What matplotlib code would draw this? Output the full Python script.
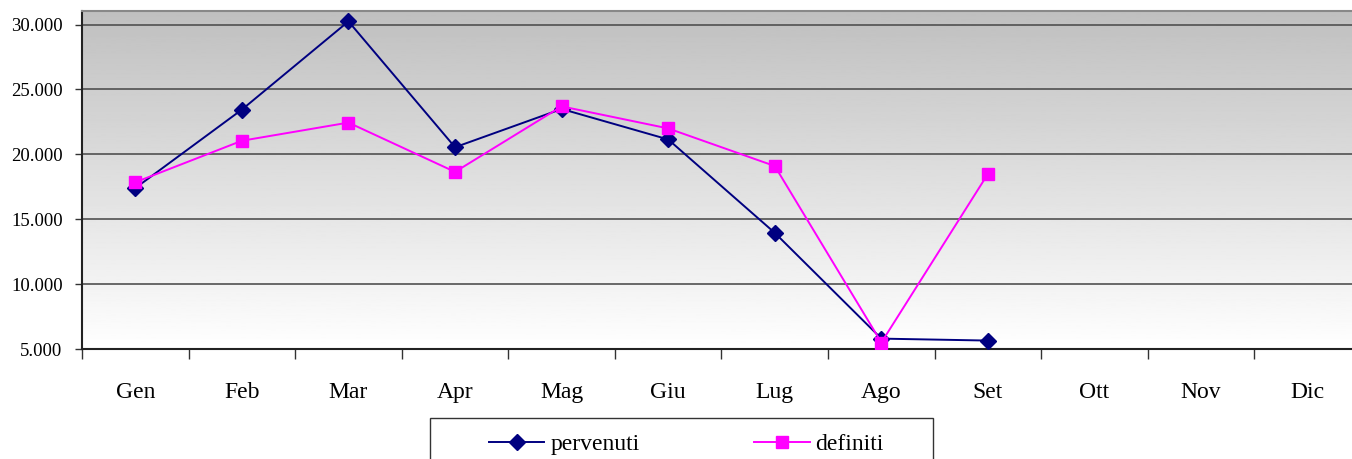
from matplotlib import pyplot as plt
from matplotlib.patches import Rectangle
import numpy as np

# ------- Data ---------
mesi = ['Gen', 'Feb', 'Mar', 'Apr', 'Mag', 'Giu', 'Lug', 'Ago', 'Set', 'Ott', 'Nov', 'Dic']
pervenuti = [17400, 23450, 30250, 20550, 23500, 21150, 13950, 5800, 5650]
definiti = [17850, 21050, 22450, 18650, 23700, 22000, 19100, 5500, 18500]

plt.rcParams['font.family'] = ['Liberation Serif', 'DejaVu Serif']

W, H = 1352, 459
fig = plt.figure(figsize=(W/100, H/100), dpi=100)
ax = fig.add_axes([82/W, 1-349/H, 1279/W, 338/H])

# background gradient, grey on top to white at bottom
grad = np.linspace(1.0, 0.75, 256).reshape(-1, 1)
ax.imshow(grad, cmap='gray', vmin=0, vmax=1, aspect='auto',
          extent=[0, 1, 0, 1], transform=ax.transAxes, origin='lower', zorder=0)

x = np.arange(len(mesi))
ax.plot(x[:len(pervenuti)], pervenuti, color='#000080', marker='D', markersize=8,
        linewidth=1.4, label='pervenuti', zorder=3)
ax.plot(x[:len(definiti)], definiti, color='#ff00ff', marker='s', markersize=8,
        linewidth=1.4, label='definiti', zorder=3)

ax.set_xlim(-0.5, len(mesi) - 0.5)
ax.set_ylim(5000, 31050)
ax.set_yticks([5000, 10000, 15000, 20000, 25000, 30000])
ax.set_yticklabels(['5.000', '10.000', '15.000', '20.000', '25.000', '30.000'])
ax.yaxis.grid(True, color='#505050', linewidth=1.2, zorder=1)
ax.set_axisbelow(True)

ax.set_xticks(np.arange(len(mesi) + 1) - 0.5)
ax.set_xticklabels([])
ax.set_xticks(x, minor=True)
ax.set_xticklabels(mesi, minor=True)
ax.tick_params(axis='x', which='major', direction='out', length=7, width=1, color='#333333')
ax.tick_params(axis='x', which='minor', length=0, pad=24, labelsize=17)
ax.tick_params(axis='y', direction='out', length=5, width=1, color='#333333', labelsize=13.5, pad=9)

ax.spines['right'].set_visible(False)
ax.spines['top'].set_color('#888888')
ax.spines['top'].set_linewidth(1.5)
for s in ['left', 'bottom']:
    ax.spines[s].set_color('#222222')
    ax.spines[s].set_linewidth(1.5)

# legend box (cut by the bottom edge of the picture)
fig.patches.append(Rectangle((430/W, -0.05), 503/W, 0.05 + 1 - 418/H,
                             transform=fig.transFigure, fill=False,
                             edgecolor='#333333', linewidth=1.0))
leg = fig.legend(loc='center left', bbox_to_anchor=(489/W, 1-444/H), ncol=2,
                 fontsize=17, frameon=False, handlelength=2.35, handletextpad=0.25,
                 columnspacing=4.85, borderpad=0, borderaxespad=0)

plt.savefig('out.png', dpi=100)
